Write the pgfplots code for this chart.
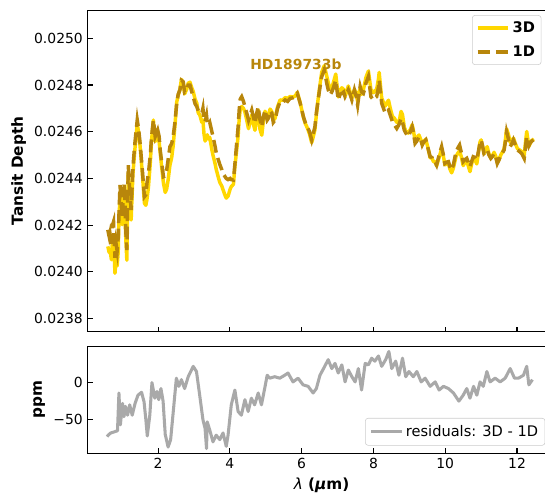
\documentclass[border=0pt]{standalone}
\usepackage{fontspec}
\setmainfont{DejaVu Sans}
\usepackage{pgfplots}
\usepackage{pgfplotstable}
\pgfplotsset{compat=1.18}
\definecolor{goldA}{HTML}{FFD700}
\definecolor{dgold}{HTML}{B8860B}
\definecolor{dgray}{HTML}{A9A9A9}
\definecolor{lgray}{HTML}{CCCCCC}

\pgfplotstableread{
x d1 d3
0.60 0.024180 0.024109
0.64 0.024150 0.024082
0.66 0.024165 0.024095
0.70 0.024120 0.024052
0.73 0.024200 0.024133
0.76 0.024215 0.024148
0.78 0.024130 0.024064
0.80 0.024060 0.023994
0.83 0.024120 0.024055
0.86 0.024090 0.024025
0.89 0.024150 0.024085
0.91 0.024240 0.024226
0.94 0.024372 0.024320
0.97 0.024300 0.024245
1.00 0.024230 0.024202
1.03 0.024322 0.024280
1.06 0.024380 0.024335
1.10 0.024180 0.024148
1.13 0.024093 0.024050
1.17 0.024457 0.024422
1.21 0.024350 0.024320
1.25 0.024265 0.024222
1.30 0.024450 0.024420
1.36 0.024560 0.024535
1.42 0.024650 0.024633
1.46 0.024610 0.024595
1.50 0.024550 0.024537
1.56 0.024440 0.024425
1.62 0.024322 0.024294
1.66 0.024330 0.024285
1.69 0.024379 0.024310
1.73 0.024420 0.024360
1.78 0.024493 0.024458
1.82 0.024580 0.024565
1.87 0.024650 0.024650
1.92 0.024579 0.024558
1.99 0.024607 0.024593
2.03 0.024580 0.024557
2.06 0.024522 0.024510
2.10 0.024470 0.024450
2.15 0.024407 0.024380
2.20 0.024410 0.024340
2.24 0.024436 0.024355
2.28 0.024480 0.024393
2.33 0.024536 0.024456
2.38 0.024550 0.024490
2.42 0.024579 0.024538
2.47 0.024640 0.024625
2.52 0.024722 0.024727
2.56 0.024760 0.024755
2.61 0.024779 0.024782
2.65 0.024820 0.024824
2.70 0.024814 0.024810
2.74 0.024770 0.024762
2.80 0.024779 0.024783
2.84 0.024800 0.024808
2.89 0.024800 0.024812
2.94 0.024770 0.024788
2.98 0.024750 0.024772
3.03 0.024720 0.024740
3.08 0.024707 0.024722
3.12 0.024690 0.024680
3.16 0.024690 0.024673
3.22 0.024679 0.024640
3.25 0.024700 0.024650
3.28 0.024650 0.024590
3.31 0.024643 0.024560
3.35 0.024670 0.024581
3.37 0.024640 0.024587
3.40 0.024629 0.024569
3.44 0.024640 0.024576
3.50 0.024600 0.024522
3.53 0.024580 0.024500
3.59 0.024536 0.024462
3.62 0.024510 0.024439
3.68 0.024479 0.024404
3.72 0.024460 0.024383
3.78 0.024436 0.024366
3.81 0.024420 0.024352
3.87 0.024407 0.024326
3.90 0.024400 0.024316
3.95 0.024395 0.024324
4.01 0.024400 0.024355
4.04 0.024395 0.024365
4.10 0.024393 0.024375
4.14 0.024460 0.024450
4.19 0.024550 0.024522
4.23 0.024620 0.024581
4.26 0.024693 0.024653
4.29 0.024740 0.024698
4.33 0.024750 0.024708
4.38 0.024730 0.024700
4.42 0.024707 0.024684
4.47 0.024680 0.024650
4.52 0.024650 0.024613
4.56 0.024670 0.024640
4.61 0.024693 0.024672
4.66 0.024660 0.024630
4.70 0.024636 0.024606
4.75 0.024680 0.024658
4.79 0.024707 0.024693
4.84 0.024650 0.024610
4.89 0.024621 0.024585
4.93 0.024660 0.024640
4.98 0.024693 0.024688
5.04 0.024650 0.024660
5.07 0.024657 0.024665
5.12 0.024690 0.024697
5.17 0.024679 0.024686
5.21 0.024640 0.024648
5.26 0.024650 0.024658
5.33 0.024700 0.024707
5.40 0.024729 0.024736
5.47 0.024725 0.024735
5.54 0.024736 0.024746
5.61 0.024730 0.024743
5.68 0.024743 0.024751
5.75 0.024745 0.024748
5.82 0.024750 0.024753
5.88 0.024764 0.024769
5.96 0.024722 0.024724
6.05 0.024664 0.024661
6.10 0.024640 0.024636
6.16 0.024621 0.024616
6.22 0.024600 0.024590
6.28 0.024565 0.024553
6.32 0.024590 0.024576
6.37 0.024621 0.024609
6.41 0.024680 0.024672
6.46 0.024736 0.024741
6.51 0.024790 0.024800
6.56 0.024836 0.024855
6.63 0.024864 0.024883
6.70 0.024807 0.024838
6.74 0.024780 0.024811
6.79 0.024757 0.024782
6.84 0.024770 0.024789
6.88 0.024786 0.024808
6.95 0.024821 0.024847
7.02 0.024736 0.024749
7.07 0.024760 0.024778
7.12 0.024764 0.024788
7.17 0.024770 0.024781
7.21 0.024750 0.024751
7.26 0.024765 0.024775
7.30 0.024779 0.024796
7.35 0.024760 0.024770
7.40 0.024736 0.024744
7.47 0.024779 0.024781
7.52 0.024750 0.024762
7.56 0.024714 0.024729
7.60 0.024760 0.024770
7.63 0.024793 0.024785
7.67 0.024770 0.024760
7.72 0.024764 0.024780
7.77 0.024790 0.024816
7.79 0.024807 0.024832
7.86 0.024836 0.024860
7.93 0.024750 0.024780
8.00 0.024736 0.024767
8.04 0.024745 0.024774
8.09 0.024750 0.024782
8.14 0.024790 0.024826
8.16 0.024821 0.024854
8.23 0.024722 0.024744
8.28 0.024700 0.024726
8.33 0.024679 0.024710
8.38 0.024690 0.024725
8.42 0.024693 0.024735
8.47 0.024670 0.024700
8.53 0.024643 0.024665
8.58 0.024630 0.024659
8.65 0.024614 0.024640
8.71 0.024630 0.024640
8.77 0.024657 0.024687
8.81 0.024640 0.024673
8.86 0.024607 0.024620
8.90 0.024595 0.024603
8.97 0.024579 0.024594
9.03 0.024600 0.024610
9.08 0.024621 0.024630
9.11 0.024600 0.024608
9.16 0.024550 0.024563
9.21 0.024560 0.024575
9.27 0.024579 0.024586
9.33 0.024560 0.024561
9.36 0.024543 0.024545
9.40 0.024555 0.024559
9.46 0.024565 0.024568
9.52 0.024530 0.024530
9.58 0.024493 0.024488
9.63 0.024490 0.024488
9.67 0.024472 0.024472
9.72 0.024470 0.024471
9.76 0.024457 0.024454
9.83 0.024500 0.024490
9.90 0.024536 0.024528
9.95 0.024500 0.024495
9.99 0.024464 0.024458
10.04 0.024470 0.024462
10.09 0.024472 0.024464
10.13 0.024450 0.024440
10.18 0.024436 0.024424
10.23 0.024460 0.024446
10.30 0.024514 0.024494
10.35 0.024530 0.024508
10.40 0.024543 0.024518
10.45 0.024510 0.024492
10.50 0.024472 0.024455
10.55 0.024480 0.024468
10.60 0.024486 0.024478
10.64 0.024470 0.024455
10.69 0.024450 0.024429
10.74 0.024475 0.024465
10.78 0.024493 0.024488
10.83 0.024490 0.024478
10.88 0.024479 0.024462
10.93 0.024520 0.024515
10.97 0.024555 0.024556
11.00 0.024565 0.024565
11.04 0.024540 0.024537
11.08 0.024507 0.024505
11.13 0.024515 0.024525
11.17 0.024522 0.024536
11.22 0.024500 0.024504
11.27 0.024486 0.024487
11.32 0.024495 0.024499
11.36 0.024507 0.024512
11.41 0.024490 0.024494
11.45 0.024464 0.024467
11.50 0.024480 0.024482
11.55 0.024500 0.024501
11.60 0.024510 0.024514
11.64 0.024522 0.024527
11.68 0.024560 0.024570
11.71 0.024600 0.024612
11.76 0.024570 0.024589
11.81 0.024536 0.024555
11.86 0.024550 0.024560
11.90 0.024565 0.024573
11.95 0.024545 0.024551
12.01 0.024522 0.024528
12.07 0.024515 0.024522
12.13 0.024507 0.024515
12.20 0.024486 0.024498
12.24 0.024540 0.024560
12.27 0.024579 0.024601
12.30 0.024560 0.024570
12.33 0.024540 0.024537
12.36 0.024550 0.024547
12.41 0.024560 0.024562
12.47 0.024565 0.024569
}\spec

\pgfplotstableread{
x r
0.58 -73
0.61 -71
0.68 -68
0.75 -67
0.87 -65
0.91 -14
0.95 -57
1.01 -28
1.05 -46
1.09 -32
1.15 -44
1.21 -30
1.28 -44
1.36 -28
1.44 -17
1.54 -13
1.61 -26
1.66 -50
1.70 -72
1.77 -44
1.83 0
1.91 -21
1.97 -12
2.02 -23
2.08 -8
2.14 -25
2.20 -70
2.28 -87
2.35 -77
2.42 -41
2.51 6
2.58 -5
2.65 4
2.74 -8
2.84 8
2.98 22
3.07 15
3.16 -17
3.25 -50
3.31 -62
3.35 -89
3.37 -53
3.44 -64
3.53 -80
3.62 -71
3.72 -77
3.81 -68
3.90 -86
3.95 -71
4.04 -30
4.14 -10
4.23 -39
4.32 -44
4.42 -23
4.51 -39
4.60 -21
4.69 -30
4.79 -14
4.88 -30
4.97 -8
5.04 10
5.11 6
5.25 8
5.39 6
5.53 10
5.62 13
5.76 1
5.90 6
6.04 -3
6.18 -5
6.32 -14
6.41 -8
6.51 10
6.61 19
6.74 31
6.84 19
6.93 26
7.02 13
7.12 24
7.21 1
7.30 17
7.40 8
7.49 1
7.58 19
7.67 -10
7.77 26
7.86 24
7.95 33
8.04 29
8.14 36
8.23 22
8.34 31
8.43 42
8.51 19
8.62 29
8.71 10
8.81 33
8.90 8
8.99 15
9.11 8
9.21 15
9.33 1
9.44 6
9.58 -5
9.72 1
9.83 -10
9.95 -5
10.09 -8
10.23 -14
10.38 -25
10.50 -17
10.60 -8
10.69 -21
10.79 -5
10.88 -17
10.97 1
11.06 -5
11.16 15
11.25 1
11.39 6
11.53 1
11.67 6
11.81 19
11.93 6
12.04 6
12.18 10
12.27 22
12.33 -3
12.43 4
}\resid

\begin{document}
\begin{tikzpicture}
\pgfplotsset{
  myax/.style={
    scale only axis,
    width=336.5pt,
    xmin=0.04, xmax=13.07,
    tick align=inside,
    tick pos=left,
    major tick length=3.5pt,
    every tick/.style={black, line width=0.8pt},
    axis line style={black, line width=0.8pt},
    tick label style={font=\fontsize{10}{12}\selectfont},
    label style={font=\bfseries\fontsize{11}{13}\selectfont},
    xtick={2,4,6,8,10,12},
    scaled x ticks=false,
    scaled y ticks=false,
    clip=true,
  }
}
\begin{axis}[myax,
  name=top,
  at={(63.1pt,-7.4pt)}, anchor=north west,
  height=231.2pt,
  ymin=0.023744, ymax=0.02512,
  ytick={0.0238,0.0240,0.0242,0.0244,0.0246,0.0248,0.0250},
  yticklabels={0.0238,0.0240,0.0242,0.0244,0.0246,0.0248,0.0250},
  xticklabels={},
  ylabel={Tansit Depth},
  ylabel style={at={(axis description cs:-0.1474,0.5)}, anchor=center},
  legend style={at={(axis description cs:0.8217,0.985)}, anchor=north west,
    draw=lgray, rounded corners=2pt, fill=white, fill opacity=0.8, text opacity=1,
    font=\bfseries\fontsize{10.5}{12}\selectfont, inner sep=2.5pt, row sep=4pt},
  legend cell align=left,
  legend image code/.code={\draw[#1] (0pt,0pt) -- (22pt,0pt);},
]
\addplot[goldA, line width=2.5pt, line join=round] table[x=x, y=d3] {\spec};
\addlegendentry{3D}
\addplot[dgold, line width=2.5pt, dash pattern=on 9.25pt off 4pt] table[x=x, y=d1] {\spec};
\addlegendentry{1D}
\node[font=\bfseries\fontsize{10}{12}\selectfont, text=dgold] at (axis cs:5.84,0.02489) {HD189733b};
\end{axis}

\begin{axis}[myax,
  name=bot,
  at={(63.1pt,-249.4pt)}, anchor=north west,
  height=76.7pt,
  ymin=-95.4, ymax=48.6,
  ytick={-50,0},
  yticklabels={−50,0},
  xticklabels={2,4,6,8,10,12},
  ylabel={ppm},
  ylabel style={at={(axis description cs:-0.104,0.5)}, anchor=center},
  xlabel={{\mdseries\itshape λ} (\textit{μ}m)},
  xlabel style={at={(axis description cs:0.5,-0.297)}, anchor=center},
  legend style={at={(axis description cs:0.593,0.331)}, anchor=north west,
    draw=lgray, rounded corners=2pt, fill=white, fill opacity=0.8, text opacity=1,
    font=\fontsize{10.5}{12}\selectfont, inner sep=3pt},
  legend cell align=left,
  legend image code/.code={\draw[#1] (0pt,0pt) -- (22pt,0pt);},
]
\addplot[dgray, line width=2.2pt, line join=round] table[x=x, y=r] {\resid};
\addlegendentry{residuals: 3D - 1D}
\end{axis}

\pgfresetboundingbox
\path (0pt,0pt) rectangle (392.1pt,-355.4pt);
\end{tikzpicture}
\end{document}
